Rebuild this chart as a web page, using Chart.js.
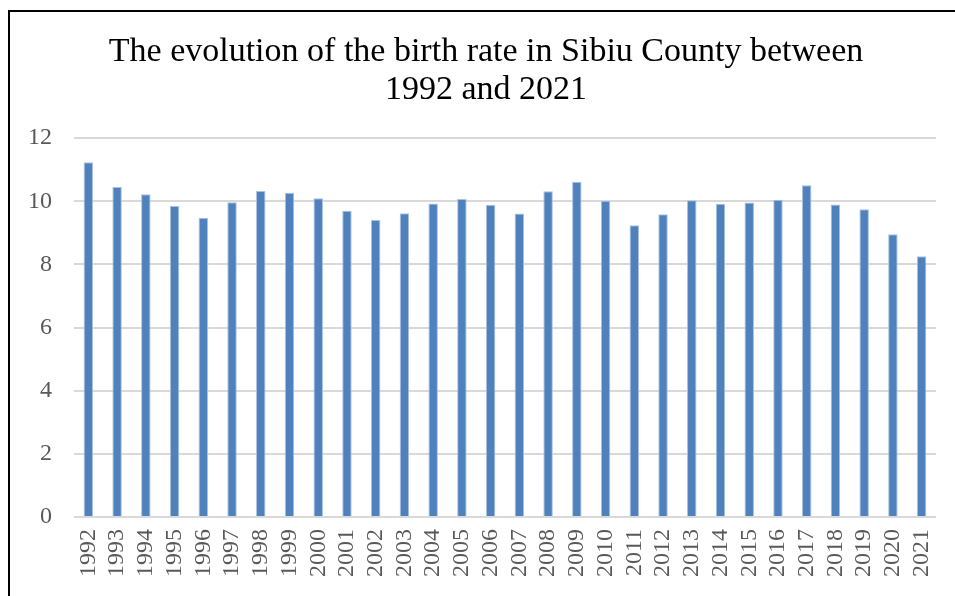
<!DOCTYPE html>
<html>
<head>
<meta charset="utf-8">
<script src="https://cdn.jsdelivr.net/npm/chart.js@4/dist/chart.umd.min.js"></script>
<style>
html,body{margin:0;padding:0;background:#fff;}
#wrap{position:relative;width:955px;height:596px;}
canvas{position:absolute;left:0;top:0;}
#frame{position:absolute;left:8px;top:10px;width:947px;height:586px;border-left:2px solid #000;border-top:2px solid #000;pointer-events:none;box-sizing:border-box;}
</style>
</head>
<body>
<div id="wrap">
<canvas id="c" width="955" height="596"></canvas>
<div id="frame"></div>
</div>
<script>
const titleLines = ["The evolution of the birth rate in Sibiu County between", "1992 and 2021"];
const years = ["1992","1993","1994","1995","1996","1997","1998","1999","2000","2001","2002","2003","2004","2005","2006","2007","2008","2009","2010","2011","2012","2013","2014","2015","2016","2017","2018","2019","2020","2021"];
const birthRate = [11.24,10.45,10.22,9.85,9.48,9.97,10.33,10.27,10.10,9.70,9.41,9.62,9.93,10.07,9.89,9.61,10.32,10.62,10.02,9.24,9.59,10.03,9.92,9.96,10.05,10.51,9.90,9.75,8.96,8.26];
const yMin = 0, yMax = 12, yStep = 2;

const serif = "'Liberation Serif', 'Times New Roman', serif";

new Chart(document.getElementById('c'), {
  type: 'bar',
  data: {
    labels: years,
    datasets: [{
      data: birthRate,
      backgroundColor: '#4f81bd',
      borderColor: '#a9c2e0',
      borderWidth: 1,
      categoryPercentage: 1,
      barPercentage: 0.33
    }]
  },
  options: {
    responsive: false,
    animation: false,
    devicePixelRatio: 1,
    layout: { padding: { left: 18, right: 1, top: 0, bottom: 0 } },
    plugins: {
      legend: { display: false },
      tooltip: { enabled: false },
      title: {
        display: true,
        text: titleLines,
        color: '#000',
        font: { family: serif, size: 34, weight: 'normal', lineHeight: 1.12 },
        padding: { top: 33, bottom: 29 }
      }
    },
    scales: {
      x: {
        grid: { display: false, drawTicks: false },
        border: { display: false },
        ticks: {
          color: '#595959',
          font: { family: serif, size: 24 },
          minRotation: 90, maxRotation: 90,
          autoSkip: false,
          padding: 12
        },
        afterFit: (s) => { s.height = 79; s.paddingRight = 19; s.paddingLeft = 0; }
      },
      y: {
        min: yMin, max: yMax,
        grid: { color: '#d9d9d9', lineWidth: 2, drawTicks: false },
        border: { display: false },
        ticks: {
          stepSize: yStep,
          color: '#595959',
          font: { family: serif, size: 24 },
          padding: 22
        },
        afterFit: (s) => { s.width = 56; }
      }
    }
  }
});
</script>
</body>
</html>
